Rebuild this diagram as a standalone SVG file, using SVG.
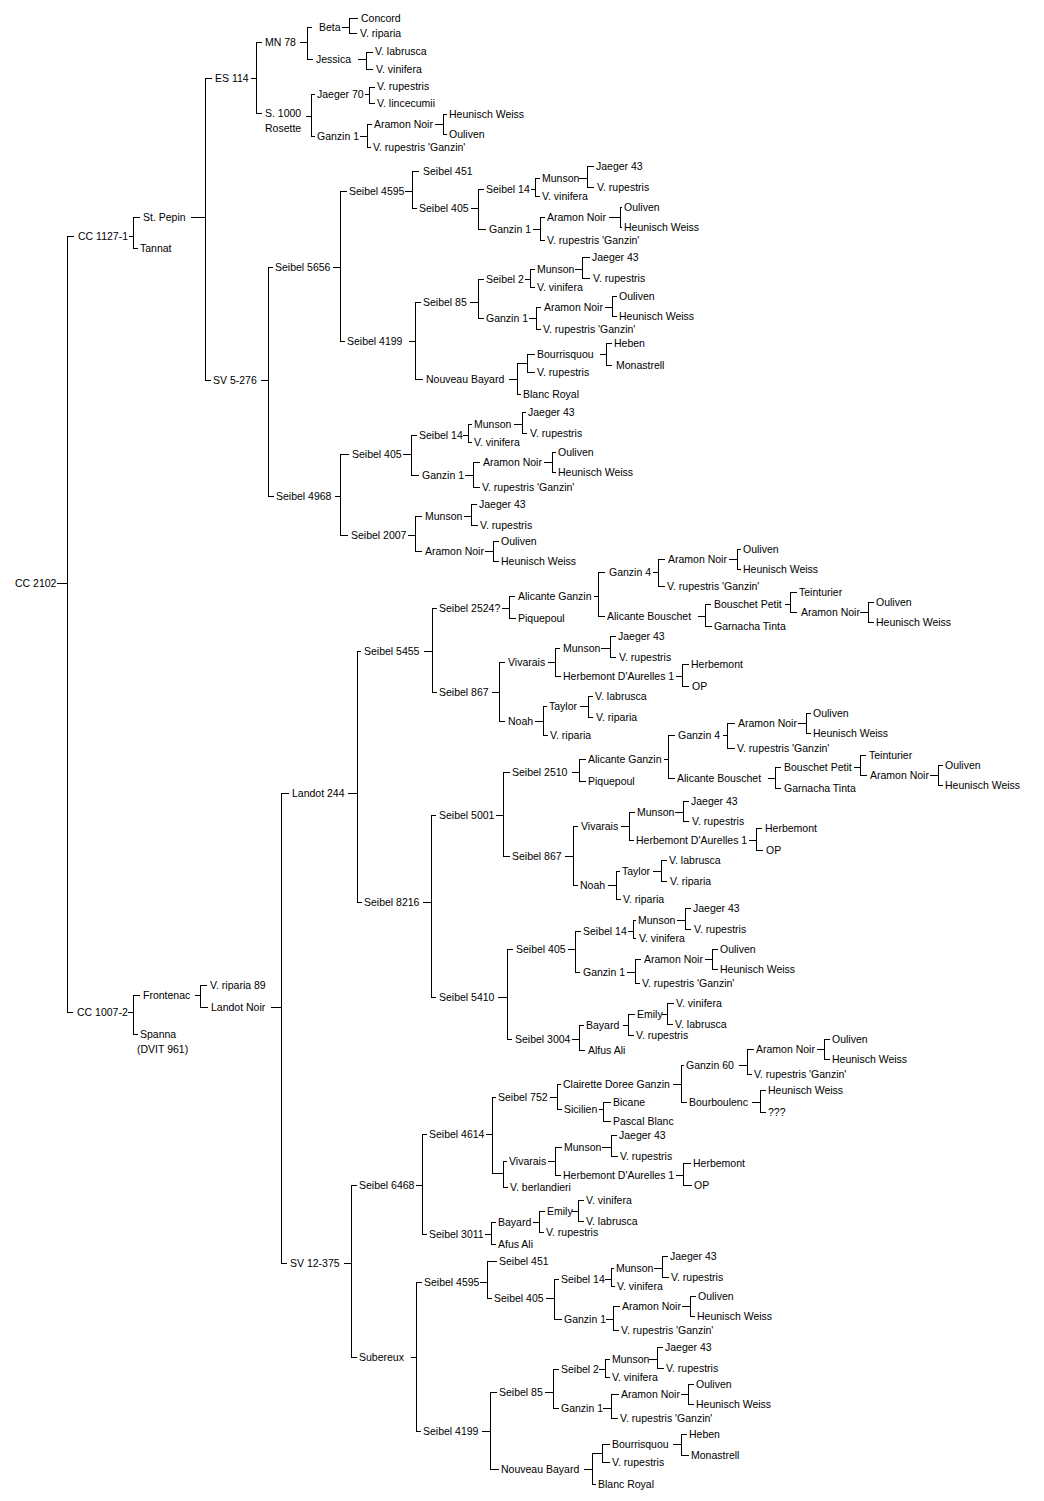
<svg xmlns="http://www.w3.org/2000/svg" width="1044" height="1501" viewBox="0 0 1044 1501">
<style>
text{font-family:"Liberation Sans",Arial,sans-serif;font-size:10.5px;fill:#000}
.c path{fill:none;stroke:#000;stroke-width:1;shape-rendering:crispEdges}
</style>
<rect width="1044" height="1501" fill="#fff"/>
<g class="c" id="connectors">
<path d="M57,583H67M67,236V1012M67,236H74M67,1012H73"/>
<path d="M129,236H133M133,217V248M133,217H140M133,248H138"/>
<path d="M191,217H205M205,78V380M205,78H212M205,380H211"/>
<path d="M251,78H256M256,42V113M256,42H262M256,113H262"/>
<path d="M300,42H307M307,27V59M307,27H312M307,59H313"/>
<path d="M342,27H349M349,18V33M349,18H358M349,33H357"/>
<path d="M358,59H366M366,52V69M366,52H373M366,69H373"/>
<path d="M306,116H311M311,94V136M311,94H315M311,136H315"/>
<path d="M365,94H369M369,87V103M369,87H375M369,103H375"/>
<path d="M360,136H367M367,124V147M367,124H372M367,147H371"/>
<path d="M435,124H443M443,114V134M443,114H447M443,134H447"/>
<path d="M261,380H268M268,267V496M268,267H273M268,496H274"/>
<path d="M333,267H340M340,191V341M340,191H347M340,341H345"/>
<path d="M405,191H412M412,171V208M412,171H419M412,208H417"/>
<path d="M471,208H478M478,189V229M478,189H484M478,229H486"/>
<path d="M531,189H535M535,178V196M535,178H540M535,196H540"/>
<path d="M579,178H587M587,166V187M587,166H594M587,187H594"/>
<path d="M533,229H540M540,217V240M540,217H545M540,240H545"/>
<path d="M609,217H620M620,207V227M620,207H622M620,227H622"/>
<path d="M409,341H415M415,302V379M415,302H421M415,379H423"/>
<path d="M470,302H478M478,279V318M478,279H484M478,318H484"/>
<path d="M525,279H530M530,269V287M530,269H535M530,287H535"/>
<path d="M575,269H582M582,257V278M582,257H590M582,278H590"/>
<path d="M529,318H536M536,307V329M536,307H541M536,329H541"/>
<path d="M605,307H612M612,296V316M612,296H617M612,316H617"/>
<path d="M509,379H517M517,363V394M517,363H527M517,394H521"/>
<path d="M527,354V372M527,354H535M527,372H535"/>
<path d="M600,354H606M606,343V365M606,343H612M606,365H612"/>
<path d="M335,496H340M340,454V535M340,454H349M340,535H348"/>
<path d="M403,454H411M411,435V475M411,435H417M411,475H419"/>
<path d="M463,435H468M468,424V442M468,424H472M468,442H472"/>
<path d="M514,424H522M522,412V433M522,412H526M522,433H527"/>
<path d="M465,475H473M473,462V487M473,462H480M473,487H480"/>
<path d="M544,462H552M552,452V472M552,452H556M552,472H556"/>
<path d="M408,535H415M415,516V551M415,516H422M415,551H422"/>
<path d="M464,516H471M471,504V525M471,504H477M471,525H478"/>
<path d="M485,551H493M493,541V561M493,541H499M493,561H499"/>
<path d="M128,1012H133M133,995V1034M133,995H140M133,1034H138"/>
<path d="M195,995H200M200,985V1007M200,985H207M200,1007H208"/>
<path d="M271,1007H281M281,793V1263M281,793H289M281,1263H287"/>
<path d="M348,793H357M357,651V902M357,651H361M357,902H362"/>
<path d="M424,651H432M432,608V692M432,608H437M432,692H437"/>
<path d="M502,608H509M509,596V618M509,596H515M509,618H516"/>
<path d="M594,596H598M598,572V616M598,572H605M598,616H605"/>
<path d="M653,572H658M658,559V586M658,559H665M658,586H665"/>
<path d="M729,559H737M737,549V569M737,549H741M737,569H741"/>
<path d="M698,616H705M705,604V626M705,604H711M705,626H712"/>
<path d="M785,604H790M790,592V612M790,592H797M790,612H797"/>
<path d="M860,612H868M868,602V622M868,602H874M868,622H874"/>
<path d="M492,692H499M499,662V721M499,662H505M499,721H505"/>
<path d="M548,662H555M555,648V676M555,648H560M555,676H561"/>
<path d="M601,648H610M610,636V657M610,636H616M610,657H616"/>
<path d="M676,676H682M682,664V686M682,664H689M682,686H689"/>
<path d="M535,721H543M543,706V735M543,706H547M543,735H548"/>
<path d="M580,706H588M588,696V717M588,696H593M588,717H593"/>
<path d="M423,902H431M431,815V997M431,815H436M431,997H436"/>
<path d="M496,815H503M503,772V856M503,772H510M503,856H510"/>
<path d="M572,772H579M579,759V781M579,759H586M579,781H586"/>
<path d="M664,759H668M668,735V778M668,735H675M668,778H675"/>
<path d="M723,735H727M727,723V748M727,723H735M727,748H735"/>
<path d="M798,723H806M806,713V733M806,713H811M806,733H811"/>
<path d="M768,778H775M775,767V788M775,767H781M775,788H781"/>
<path d="M854,767H860M860,755V775M860,755H866M860,775H867"/>
<path d="M930,775H938M938,765V785M938,765H943M938,785H943"/>
<path d="M565,856H573M573,826V885M573,826H578M573,885H578"/>
<path d="M621,826H629M629,812V840M629,812H635M629,840H634"/>
<path d="M675,812H683M683,801V821M683,801H689M683,821H689"/>
<path d="M749,840H756M756,828V850M756,828H762M756,850H763"/>
<path d="M608,885H616M616,871V899M616,871H620M616,899H621"/>
<path d="M653,871H661M661,860V881M661,860H667M661,881H667"/>
<path d="M498,997H507M507,949V1039M507,949H513M507,1039H512"/>
<path d="M568,949H575M575,931V972M575,931H581M575,972H580"/>
<path d="M628,931H633M633,920V938M633,920H636M633,938H636"/>
<path d="M677,920H685M685,908V929M685,908H691M685,929H691"/>
<path d="M627,972H635M635,959V983M635,959H641M635,983H640"/>
<path d="M705,959H712M712,949V969M712,949H718M712,969H718"/>
<path d="M572,1039H579M579,1025V1050M579,1025H584M579,1050H585"/>
<path d="M623,1025H628M628,1014V1035M628,1014H635M628,1035H634"/>
<path d="M662,1014H667M667,1003V1024M667,1003H674M667,1024H673"/>
<path d="M344,1263H351M351,1185V1357M351,1185H357M351,1357H357"/>
<path d="M416,1185H422M422,1134V1234M422,1134H427M422,1234H427"/>
<path d="M486,1134H492M492,1097V1173M492,1097H496M492,1173H503"/>
<path d="M503,1161V1187M503,1161H507M503,1187H508"/>
<path d="M550,1097H557M557,1084V1109M557,1084H561M557,1109H562"/>
<path d="M673,1084H681M681,1065V1102M681,1065H684M681,1102H687"/>
<path d="M739,1065H747M747,1049V1074M747,1049H754M747,1074H752"/>
<path d="M817,1049H824M824,1039V1059M824,1039H830M824,1059H830"/>
<path d="M752,1102H760M760,1090V1112M760,1090H766M760,1112H766"/>
<path d="M599,1109H603M603,1102V1121M603,1102H611M603,1121H611"/>
<path d="M548,1161H555M555,1147V1175M555,1147H562M555,1175H561"/>
<path d="M602,1147H611M611,1135V1156M611,1135H617M611,1156H618"/>
<path d="M676,1175H683M683,1163V1185M683,1163H691M683,1185H692"/>
<path d="M485,1234H491M491,1222V1244M491,1222H496M491,1244H496"/>
<path d="M533,1222H539M539,1211V1232M539,1211H545M539,1232H544"/>
<path d="M572,1211H578M578,1200V1221M578,1200H584M578,1221H584"/>
<path d="M411,1357H416M416,1282V1431M416,1282H422M416,1431H421"/>
<path d="M480,1282H487M487,1261V1298M487,1261H497M487,1298H492"/>
<path d="M546,1298H554M554,1279V1319M554,1279H559M554,1319H562"/>
<path d="M605,1279H611M611,1268V1286M611,1268H614M611,1286H615"/>
<path d="M654,1268H662M662,1256V1277M662,1256H668M662,1277H669"/>
<path d="M606,1319H613M613,1306V1330M613,1306H620M613,1330H619"/>
<path d="M682,1306H690M690,1296V1316M690,1296H696M690,1316H695"/>
<path d="M482,1431H490M490,1392V1469M490,1392H497M490,1469H499"/>
<path d="M545,1392H553M553,1369V1408M553,1369H559M553,1408H559"/>
<path d="M599,1369H605M605,1359V1377M605,1359H610M605,1377H610"/>
<path d="M649,1359H657M657,1347V1368M657,1347H663M657,1368H664"/>
<path d="M603,1408H611M611,1394V1418M611,1394H619M611,1418H618"/>
<path d="M681,1394H688M688,1384V1404M688,1384H694M688,1404H694"/>
<path d="M584,1469H592M592,1453V1484M592,1453H602M592,1484H596"/>
<path d="M602,1444V1462M602,1444H610M602,1462H610"/>
<path d="M673,1444H681M681,1434V1455M681,1434H687M681,1455H689"/>
</g>
<g id="n1"><text x="15" y="587">CC 2102</text></g>
<g id="n2"><text x="78" y="240">CC 1127-1</text></g>
<g id="n3"><text x="143" y="221">St. Pepin</text></g>
<g id="n4"><text x="140" y="252">Tannat</text></g>
<g id="n5"><text x="215" y="82">ES 114</text></g>
<g id="n6"><text x="265" y="46">MN 78</text></g>
<g id="n7"><text x="319" y="31">Beta</text></g>
<g id="n8"><text x="361" y="22">Concord</text></g>
<g id="n9"><text x="360" y="37">V. riparia</text></g>
<g id="n10"><text x="316" y="63">Jessica</text></g>
<g id="n11"><text x="375" y="55">V. labrusca</text></g>
<g id="n12"><text x="376" y="73">V. vinifera</text></g>
<g id="n13"><text x="265" y="117">S. 1000</text><text x="265" y="132">Rosette</text></g>
<g id="n14"><text x="317" y="98">Jaeger 70</text></g>
<g id="n15"><text x="377" y="90">V. rupestris</text></g>
<g id="n16"><text x="377" y="107">V. lincecumii</text></g>
<g id="n17"><text x="317" y="140">Ganzin 1</text></g>
<g id="n18"><text x="374" y="128">Aramon Noir</text></g>
<g id="n19"><text x="449" y="118">Heunisch Weiss</text></g>
<g id="n20"><text x="449" y="138">Ouliven</text></g>
<g id="n21"><text x="373" y="151">V. rupestris 'Ganzin'</text></g>
<g id="n22"><text x="213" y="384">SV 5-276</text></g>
<g id="n23"><text x="275" y="271">Seibel 5656</text></g>
<g id="n24"><text x="349" y="195">Seibel 4595</text></g>
<g id="n25"><text x="423" y="175">Seibel 451</text></g>
<g id="n26"><text x="419" y="212">Seibel 405</text></g>
<g id="n27"><text x="486" y="193">Seibel 14</text></g>
<g id="n28"><text x="542" y="182">Munson</text></g>
<g id="n29"><text x="596" y="170">Jaeger 43</text></g>
<g id="n30"><text x="597" y="191">V. rupestris</text></g>
<g id="n31"><text x="542" y="200">V. vinifera</text></g>
<g id="n32"><text x="489" y="233">Ganzin 1</text></g>
<g id="n33"><text x="547" y="221">Aramon Noir</text></g>
<g id="n34"><text x="624" y="211">Ouliven</text></g>
<g id="n35"><text x="624" y="231">Heunisch Weiss</text></g>
<g id="n36"><text x="547" y="244">V. rupestris 'Ganzin'</text></g>
<g id="n37"><text x="347" y="345">Seibel 4199</text></g>
<g id="n38"><text x="423" y="306">Seibel 85</text></g>
<g id="n39"><text x="486" y="283">Seibel 2</text></g>
<g id="n40"><text x="537" y="273">Munson</text></g>
<g id="n41"><text x="592" y="261">Jaeger 43</text></g>
<g id="n42"><text x="593" y="282">V. rupestris</text></g>
<g id="n43"><text x="537" y="291">V. vinifera</text></g>
<g id="n44"><text x="486" y="322">Ganzin 1</text></g>
<g id="n45"><text x="544" y="311">Aramon Noir</text></g>
<g id="n46"><text x="619" y="300">Ouliven</text></g>
<g id="n47"><text x="619" y="320">Heunisch Weiss</text></g>
<g id="n48"><text x="543" y="333">V. rupestris 'Ganzin'</text></g>
<g id="n49"><text x="426" y="383">Nouveau Bayard</text></g>
<g id="n50"><text x="537" y="358">Bourrisquou</text></g>
<g id="n51"><text x="614" y="347">Heben</text></g>
<g id="n52"><text x="616" y="369">Monastrell</text></g>
<g id="n53"><text x="537" y="376">V. rupestris</text></g>
<g id="n54"><text x="523" y="398">Blanc Royal</text></g>
<g id="n55"><text x="276" y="500">Seibel 4968</text></g>
<g id="n56"><text x="352" y="458">Seibel 405</text></g>
<g id="n57"><text x="419" y="439">Seibel 14</text></g>
<g id="n58"><text x="474" y="428">Munson</text></g>
<g id="n59"><text x="528" y="416">Jaeger 43</text></g>
<g id="n60"><text x="530" y="437">V. rupestris</text></g>
<g id="n61"><text x="474" y="446">V. vinifera</text></g>
<g id="n62"><text x="422" y="479">Ganzin 1</text></g>
<g id="n63"><text x="483" y="466">Aramon Noir</text></g>
<g id="n64"><text x="558" y="456">Ouliven</text></g>
<g id="n65"><text x="558" y="476">Heunisch Weiss</text></g>
<g id="n66"><text x="482" y="491">V. rupestris 'Ganzin'</text></g>
<g id="n67"><text x="351" y="539">Seibel 2007</text></g>
<g id="n68"><text x="425" y="520">Munson</text></g>
<g id="n69"><text x="479" y="508">Jaeger 43</text></g>
<g id="n70"><text x="480" y="529">V. rupestris</text></g>
<g id="n71"><text x="425" y="555">Aramon Noir</text></g>
<g id="n72"><text x="501" y="545">Ouliven</text></g>
<g id="n73"><text x="501" y="565">Heunisch Weiss</text></g>
<g id="n74"><text x="77" y="1016">CC 1007-2</text></g>
<g id="n75"><text x="143" y="999">Frontenac</text></g>
<g id="n76"><text x="210" y="989">V. riparia 89</text></g>
<g id="n77"><text x="211" y="1011">Landot Noir</text></g>
<g id="n78"><text x="140" y="1038">Spanna</text><text x="137" y="1053">(DVIT 961)</text></g>
<g id="n79"><text x="292" y="797">Landot 244</text></g>
<g id="n80"><text x="364" y="655">Seibel 5455</text></g>
<g id="n81"><text x="439" y="612">Seibel 2524?</text></g>
<g id="n82"><text x="518" y="600">Alicante Ganzin</text></g>
<g id="n83"><text x="609" y="576">Ganzin 4</text></g>
<g id="n84"><text x="668" y="563">Aramon Noir</text></g>
<g id="n85"><text x="743" y="553">Ouliven</text></g>
<g id="n86"><text x="743" y="573">Heunisch Weiss</text></g>
<g id="n87"><text x="667" y="590">V. rupestris 'Ganzin'</text></g>
<g id="n88"><text x="607" y="620">Alicante Bouschet</text></g>
<g id="n89"><text x="714" y="608">Bouschet Petit</text></g>
<g id="n90"><text x="799" y="596">Teinturier</text></g>
<g id="n91"><text x="801" y="616">Aramon Noir</text></g>
<g id="n92"><text x="876" y="606">Ouliven</text></g>
<g id="n93"><text x="876" y="626">Heunisch Weiss</text></g>
<g id="n94"><text x="714" y="630">Garnacha Tinta</text></g>
<g id="n95"><text x="518" y="622">Piquepoul</text></g>
<g id="n96"><text x="439" y="696">Seibel 867</text></g>
<g id="n97"><text x="508" y="666">Vivarais</text></g>
<g id="n98"><text x="563" y="652">Munson</text></g>
<g id="n99"><text x="618" y="640">Jaeger 43</text></g>
<g id="n100"><text x="619" y="661">V. rupestris</text></g>
<g id="n101"><text x="563" y="680">Herbemont D'Aurelles 1</text></g>
<g id="n102"><text x="691" y="668">Herbemont</text></g>
<g id="n103"><text x="692" y="690">OP</text></g>
<g id="n104"><text x="508" y="725">Noah</text></g>
<g id="n105"><text x="549" y="710">Taylor</text></g>
<g id="n106"><text x="595" y="700">V. labrusca</text></g>
<g id="n107"><text x="596" y="721">V. riparia</text></g>
<g id="n108"><text x="550" y="739">V. riparia</text></g>
<g id="n109"><text x="364" y="906">Seibel 8216</text></g>
<g id="n110"><text x="439" y="819">Seibel 5001</text></g>
<g id="n111"><text x="512" y="776">Seibel 2510</text></g>
<g id="n112"><text x="588" y="763">Alicante Ganzin</text></g>
<g id="n113"><text x="678" y="739">Ganzin 4</text></g>
<g id="n114"><text x="738" y="727">Aramon Noir</text></g>
<g id="n115"><text x="813" y="717">Ouliven</text></g>
<g id="n116"><text x="813" y="737">Heunisch Weiss</text></g>
<g id="n117"><text x="737" y="752">V. rupestris 'Ganzin'</text></g>
<g id="n118"><text x="677" y="782">Alicante Bouschet</text></g>
<g id="n119"><text x="784" y="771">Bouschet Petit</text></g>
<g id="n120"><text x="869" y="759">Teinturier</text></g>
<g id="n121"><text x="870" y="779">Aramon Noir</text></g>
<g id="n122"><text x="945" y="769">Ouliven</text></g>
<g id="n123"><text x="945" y="789">Heunisch Weiss</text></g>
<g id="n124"><text x="784" y="792">Garnacha Tinta</text></g>
<g id="n125"><text x="588" y="785">Piquepoul</text></g>
<g id="n126"><text x="512" y="860">Seibel 867</text></g>
<g id="n127"><text x="581" y="830">Vivarais</text></g>
<g id="n128"><text x="637" y="816">Munson</text></g>
<g id="n129"><text x="691" y="805">Jaeger 43</text></g>
<g id="n130"><text x="692" y="825">V. rupestris</text></g>
<g id="n131"><text x="636" y="844">Herbemont D'Aurelles 1</text></g>
<g id="n132"><text x="765" y="832">Herbemont</text></g>
<g id="n133"><text x="766" y="854">OP</text></g>
<g id="n134"><text x="580" y="889">Noah</text></g>
<g id="n135"><text x="622" y="875">Taylor</text></g>
<g id="n136"><text x="669" y="864">V. labrusca</text></g>
<g id="n137"><text x="670" y="885">V. riparia</text></g>
<g id="n138"><text x="623" y="903">V. riparia</text></g>
<g id="n139"><text x="439" y="1001">Seibel 5410</text></g>
<g id="n140"><text x="516" y="953">Seibel 405</text></g>
<g id="n141"><text x="583" y="935">Seibel 14</text></g>
<g id="n142"><text x="638" y="924">Munson</text></g>
<g id="n143"><text x="693" y="912">Jaeger 43</text></g>
<g id="n144"><text x="694" y="933">V. rupestris</text></g>
<g id="n145"><text x="639" y="942">V. vinifera</text></g>
<g id="n146"><text x="583" y="976">Ganzin 1</text></g>
<g id="n147"><text x="644" y="963">Aramon Noir</text></g>
<g id="n148"><text x="720" y="953">Ouliven</text></g>
<g id="n149"><text x="720" y="973">Heunisch Weiss</text></g>
<g id="n150"><text x="642" y="987">V. rupestris 'Ganzin'</text></g>
<g id="n151"><text x="515" y="1043">Seibel 3004</text></g>
<g id="n152"><text x="586" y="1029">Bayard</text></g>
<g id="n153"><text x="637" y="1018">Emily</text></g>
<g id="n154"><text x="676" y="1007">V. vinifera</text></g>
<g id="n155"><text x="675" y="1028">V. labrusca</text></g>
<g id="n156"><text x="636" y="1039">V. rupestris</text></g>
<g id="n157"><text x="588" y="1054">Alfus Ali</text></g>
<g id="n158"><text x="290" y="1267">SV 12-375</text></g>
<g id="n159"><text x="359" y="1189">Seibel 6468</text></g>
<g id="n160"><text x="429" y="1138">Seibel 4614</text></g>
<g id="n161"><text x="498" y="1101">Seibel 752</text></g>
<g id="n162"><text x="563" y="1088">Clairette Doree Ganzin</text></g>
<g id="n163"><text x="686" y="1069">Ganzin 60</text></g>
<g id="n164"><text x="756" y="1053">Aramon Noir</text></g>
<g id="n165"><text x="832" y="1043">Ouliven</text></g>
<g id="n166"><text x="832" y="1063">Heunisch Weiss</text></g>
<g id="n167"><text x="754" y="1078">V. rupestris 'Ganzin'</text></g>
<g id="n168"><text x="689" y="1106">Bourboulenc</text></g>
<g id="n169"><text x="768" y="1094">Heunisch Weiss</text></g>
<g id="n170"><text x="768" y="1116">???</text></g>
<g id="n171"><text x="564" y="1113">Sicilien</text></g>
<g id="n172"><text x="613" y="1106">Bicane</text></g>
<g id="n173"><text x="613" y="1125">Pascal Blanc</text></g>
<g id="n174"><text x="509" y="1165">Vivarais</text></g>
<g id="n175"><text x="564" y="1151">Munson</text></g>
<g id="n176"><text x="619" y="1139">Jaeger 43</text></g>
<g id="n177"><text x="620" y="1160">V. rupestris</text></g>
<g id="n178"><text x="563" y="1179">Herbemont D'Aurelles 1</text></g>
<g id="n179"><text x="693" y="1167">Herbemont</text></g>
<g id="n180"><text x="694" y="1189">OP</text></g>
<g id="n181"><text x="510" y="1191">V. berlandieri</text></g>
<g id="n182"><text x="429" y="1238">Seibel 3011</text></g>
<g id="n183"><text x="498" y="1226">Bayard</text></g>
<g id="n184"><text x="547" y="1215">Emily</text></g>
<g id="n185"><text x="586" y="1204">V. vinifera</text></g>
<g id="n186"><text x="586" y="1225">V. labrusca</text></g>
<g id="n187"><text x="546" y="1236">V. rupestris</text></g>
<g id="n188"><text x="498" y="1248">Afus Ali</text></g>
<g id="n189"><text x="359" y="1361">Subereux</text></g>
<g id="n190"><text x="424" y="1286">Seibel 4595</text></g>
<g id="n191"><text x="499" y="1265">Seibel 451</text></g>
<g id="n192"><text x="494" y="1302">Seibel 405</text></g>
<g id="n193"><text x="561" y="1283">Seibel 14</text></g>
<g id="n194"><text x="616" y="1272">Munson</text></g>
<g id="n195"><text x="670" y="1260">Jaeger 43</text></g>
<g id="n196"><text x="671" y="1281">V. rupestris</text></g>
<g id="n197"><text x="617" y="1290">V. vinifera</text></g>
<g id="n198"><text x="564" y="1323">Ganzin 1</text></g>
<g id="n199"><text x="622" y="1310">Aramon Noir</text></g>
<g id="n200"><text x="698" y="1300">Ouliven</text></g>
<g id="n201"><text x="697" y="1320">Heunisch Weiss</text></g>
<g id="n202"><text x="621" y="1334">V. rupestris 'Ganzin'</text></g>
<g id="n203"><text x="423" y="1435">Seibel 4199</text></g>
<g id="n204"><text x="499" y="1396">Seibel 85</text></g>
<g id="n205"><text x="561" y="1373">Seibel 2</text></g>
<g id="n206"><text x="612" y="1363">Munson</text></g>
<g id="n207"><text x="665" y="1351">Jaeger 43</text></g>
<g id="n208"><text x="666" y="1372">V. rupestris</text></g>
<g id="n209"><text x="612" y="1381">V. vinifera</text></g>
<g id="n210"><text x="561" y="1412">Ganzin 1</text></g>
<g id="n211"><text x="621" y="1398">Aramon Noir</text></g>
<g id="n212"><text x="696" y="1388">Ouliven</text></g>
<g id="n213"><text x="696" y="1408">Heunisch Weiss</text></g>
<g id="n214"><text x="620" y="1422">V. rupestris 'Ganzin'</text></g>
<g id="n215"><text x="501" y="1473">Nouveau Bayard</text></g>
<g id="n216"><text x="612" y="1448">Bourrisquou</text></g>
<g id="n217"><text x="689" y="1438">Heben</text></g>
<g id="n218"><text x="691" y="1459">Monastrell</text></g>
<g id="n219"><text x="612" y="1466">V. rupestris</text></g>
<g id="n220"><text x="598" y="1488">Blanc Royal</text></g>
</svg>
